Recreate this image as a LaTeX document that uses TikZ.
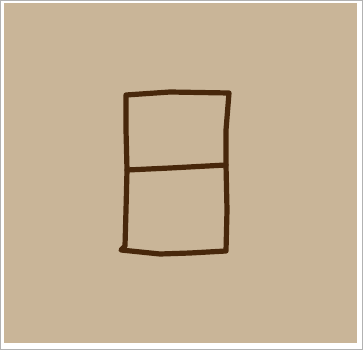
\documentclass[tikz,border=0pt]{standalone}
\definecolor{paper}{RGB}{201,181,152}
\definecolor{ink}{RGB}{72,40,12}
\begin{document}
\begin{tikzpicture}[x=1pt,y=-1pt,
  penline/.style={draw=ink,line width=5.2pt,line cap=round,line join=round}]
\useasboundingbox (0,0) rectangle (363,350);
\fill[white] (0,0) rectangle (363,350);
\fill[paper] (4,3) rectangle (357,343);
\draw[gray!60,line width=0.6pt] (0.3,0.3) rectangle (362.7,349.7);
\coordinate (tl) at (126,95);
\coordinate (tr) at (229,93);
\coordinate (ml) at (127,170);
\coordinate (mr) at (226,165);
\coordinate (bl) at (121,250);
\coordinate (br) at (226,251);
% outer frame
\draw[penline] (tl) -- (170,92) -- (tr) -- (226,130) -- (mr) -- (227,210) -- (br)
  -- (190,253) -- (160,254) -- (bl) -- (125,246) -- (126,210) -- (ml) -- (126,130) -- cycle;
% middle line
\draw[penline] (ml) -- (170,168) -- (mr);
\end{tikzpicture}
\end{document}
